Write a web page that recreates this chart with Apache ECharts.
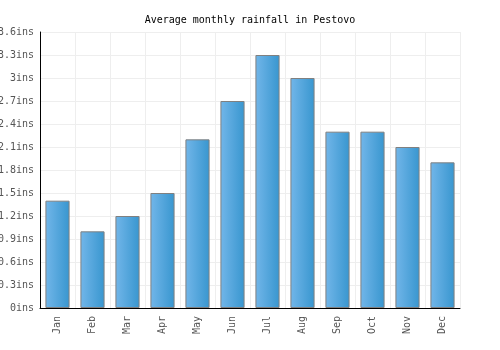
<!DOCTYPE html>
<html><head><meta charset="utf-8">
<script src="https://cdn.jsdelivr.net/npm/echarts@6/dist/echarts.min.js"></script>
<style>html,body{margin:0;padding:0;background:#fff}#c{width:500px;height:350px}</style>
</head><body><div id="c"></div>
<script>
const categories = ["Jan","Feb","Mar","Apr","May","Jun","Jul","Aug","Sep","Oct","Nov","Dec"];
const rainfall = [1.4,1.0,1.2,1.5,2.2,2.7,3.3,3.0,2.3,2.3,2.1,1.9];
const titleText = "Average monthly rainfall in Pestovo";
const unit = "ins";

const chart = echarts.init(document.getElementById('c'), null, {renderer:'canvas'});
const font = "'DejaVu Sans Mono', monospace";
chart.setOption({
  animation:false,
  title:{text:titleText,left:'center',top:10,textStyle:{fontFamily:font,fontSize:10,fontWeight:'normal',color:'#000'}},
  grid:{left:40,right:40,top:32,bottom:42,containLabel:false,outerBoundsMode:'none'},
  xAxis:{type:'category',data:categories,
    axisLine:{lineStyle:{color:'#000',width:1}},
    axisTick:{show:false},
    splitLine:{show:true,lineStyle:{color:'#eeeeee'}},
    axisLabel:{rotate:90,fontFamily:font,fontSize:10,color:'#555',margin:8,interval:0}},
  yAxis:{type:'value',min:0,max:3.6,interval:0.3,
    axisLine:{show:true,lineStyle:{color:'#000',width:1}},
    axisTick:{show:false},
    splitLine:{lineStyle:{color:'#eeeeee'}},
    axisLabel:{fontFamily:font,fontSize:10,color:'#555',margin:6,
      formatter:v=>(Math.round(v*10)/10)+unit}},
  series:[{type:'bar',data:rainfall,barCategoryGap:'31%',
    itemStyle:{borderColor:'#808080',borderWidth:1,
      color:new echarts.graphic.LinearGradient(0,0,1,0,[{offset:0,color:'#72b6e9'},{offset:1,color:'#3896cf'}])}}]
});
</script></body></html>
